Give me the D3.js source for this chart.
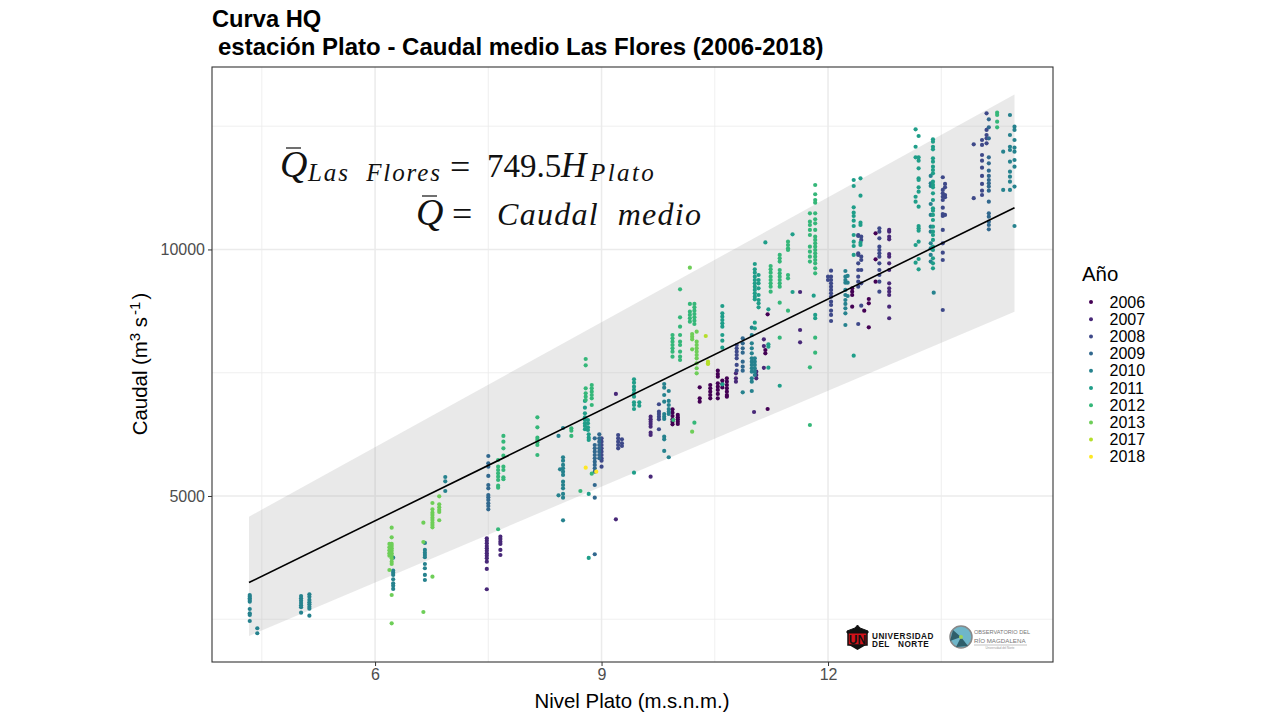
<!DOCTYPE html>
<html>
<head>
<meta charset="utf-8">
<script src="https://cdn.jsdelivr.net/npm/d3@7"></script>
<style>
  html, body { margin: 0; padding: 0; background: #fff; }
  text { font-family: "Liberation Sans", Arial, sans-serif; }
  .math { font-family: "Liberation Serif", serif; fill: #111; }
</style>
</head>
<body>
<svg id="chart" width="1280" height="720"></svg>
<script>
const obs2006 = [
  [9.94, [6758, 6689, 6622, 6555, 6507, 6454]],
  [10.01, [6643, 6596, 6555, 6507, 6460]],
  [10.3, [7204, 6981, 6912]],
  [10.44, [7251, 7184, 7115, 7048, 6981]],
  [10.54, [7541, 7474, 7419, 7285, 7217, 7150, 7069, 6981]],
  [10.6, [7340, 7270, 7200]],
  [10.66, [7387, 7319, 7251, 7184, 7115, 7048, 7014]],
  [11.17, [7961, 7894]],
  [11.2, [6764, 8684]],
  [12.32, [9212, 9143, 9076, 8839]],
  [12.54, [8995, 8908, 8421]],
  [12.48, [8758]],
  [12.63, [10327, 9800, 9346]]
];
const obs2007 = [
  [7.48, [4142, 4093, 4041, 3986, 3939, 3891, 3838, 3789, 3737, 3668, 3520, 3108]],
  [7.66, [4175, 4128, 4073, 4027, 3905, 3803]],
  [9.19, [7069, 4527]],
  [9.65, [6608, 6555, 6507, 6460, 6405, 6284, 6237, 5391]],
  [10.78, [7488, 7387, 7318]],
  [11.05, [7521, 7454, 7387]],
  [11.02, [6703]],
  [11.15, [8178, 8040, 7600]],
  [11.63, [9137, 8366, 8116]],
  [12.81, [10395, 10360, 10259, 10206, 9908, 9853, 9719, 9583, 9313, 9212, 9143, 9076, 8839, 8604]]
];
const obs2008 = [
  [9.0, [6170, 6101, 6034, 5967, 5898, 5831, 5765, 5716, 5594]],
  [9.22, [6237, 6170, 6101, 6034, 5967]],
  [9.27, [6150, 6069, 6014]],
  [9.76, [6860, 6710, 6663, 6608, 6555, 6353]],
  [10.79, [8062, 7995, 7926, 7859, 7792, 7657, 7541]],
  [12.0, [9447, 9380]],
  [12.04, [9569, 9447, 9380, 9313, 9244, 9178, 9111, 9042, 8941, 8873, 8758, 8671, 8549]],
  [12.4, [10293, 10273, 9921, 9888, 9719, 9583, 9447, 9346, 9244, 8488]],
  [12.44, [10259, 10192, 9853, 9786, 9583, 9313, 8859]],
  [12.68, [10430, 10360, 10226, 10056, 9989, 9921, 9853, 9719, 9583, 9482, 9346, 9143]],
  [13.52, [11464, 11206, 11139, 11069, 11003, 10847, 10718, 10678, 10395, 10125, 9934, 9786, 8772]],
  [13.55, [11328, 11260, 11104, 11058, 10699]],
  [13.93, [12132, 11039]],
  [14.04, [12220, 12119, 11915, 11800, 11658, 11490, 11328, 11192, 11104]],
  [14.1, [12761, 12423, 12321, 12254, 12152]]
];
const obs2009 = [
  [7.5, [5811, 5663, 5594, 5406, 5223, 5156, 5020, 4974, 4919, 4852, 4797, 4730]],
  [8.91, [6170, 6034, 5967, 5898, 5831, 5765, 5696, 5629, 5562, 5493, 5223, 4966, 3818]],
  [8.97, [6251, 6170, 6101, 6034, 5967, 5898, 5831, 5765]],
  [10.87, [8198, 8096, 7995, 7906, 7724, 7622, 7541]],
  [14.13, [12639, 12477, 12254, 11868, 11747, 11597, 11490, 11408, 11341, 11274, 11192, 10968, 10733, 10664, 10563, 10496, 10408]]
];
const obs2010 = [
  [4.34, [2992, 2958, 2925, 2891, 2856, 2708, 2621, 2587, 2465]],
  [4.44, [2317, 2216]],
  [5.02, [2972, 2925, 2877, 2830, 2783, 2743, 2633]],
  [5.13, [3007, 2958, 2891, 2844, 2804, 2755, 2714, 2572]],
  [6.24, [3749, 3485, 3444, 3398, 3311, 3230, 3181, 3114]],
  [6.66, [4047, 3905, 3850, 3803, 3757, 3621, 3534, 3398, 3296]],
  [6.93, [5385, 5298, 5101]],
  [8.49, [6379, 5785, 5716, 5629, 5562, 5493, 5426, 5290, 5223, 5156, 5041, 4966, 4507]],
  [8.45, [5541]],
  [8.43, [6217, 5014]],
  [9.83, [7271, 7196, 7048, 6912, 6663, 6608, 6562, 6203, 6150, 5913]],
  [9.89, [7129, 6927, 6845, 6764, 6710, 6663, 5785]],
  [10.87, [7103]],
  [10.99, [8413, 8265, 8096, 7995, 7893, 7792, 7724, 7657, 7590, 7521, 7387, 7318, 7129]],
  [11.03, [7792, 7724, 7657, 7590, 7521, 7454]],
  [12.23, [9563, 9447, 9380, 9325, 9178, 9076, 8975, 8894, 8806, 8705, 8468]],
  [12.26, [9462, 9325, 9056]],
  [13.36, [11490, 11341, 11287, 10922, 10699, 10461, 10360, 10125, 10023, 9888, 9753]],
  [13.4, [9123]],
  [14.32, [11983, 11206]],
  [14.41, [12727, 12321, 12083, 12017, 11780, 11577, 11476, 11375, 11206]],
  [14.47, [12489, 12423, 12220, 12064, 11983, 11814, 11678, 11274, 10475]]
];
const obs2011 = [
  [8.83, [5041, 6251, 6182, 6136, 3743]],
  [8.78, [6927, 6791, 6677, 6596, 6541, 6474, 6420, 6353]],
  [8.82, [6541, 6474, 6393, 6338]],
  [9.43, [7366, 7298, 7217, 7150, 7083, 7014, 6900, 6845, 6764, 5473]],
  [9.5, [6900, 6830]],
  [10.6, [8853, 8705, 8636, 8569, 8502, 8433, 8265, 8149, 8007, 7265]],
  [11.03, [9705, 9597, 9529, 9447, 9380, 9313, 9244, 9178, 9111, 9042, 8989, 8514, 8401]],
  [11.08, [9482, 9380, 9313, 9211, 9076, 8975, 8908, 8827]],
  [11.17, [10143]],
  [11.21, [8786, 8076, 8027, 7602]],
  [11.36, [7236]],
  [11.53, [10307, 9137]],
  [11.81, [9062]],
  [11.83, [8671, 8604]],
  [12.34, [11408, 11287, 10855, 10745, 10678, 10583, 10475, 10293, 10157, 10070, 9888, 7845]],
  [12.43, [11442, 11090, 10542, 10496, 10137, 10090]],
  [13.16, [12436, 12083, 11868, 11069, 10968, 10090, 9731]],
  [13.2, [12301, 11868, 11800, 11646, 11442, 11408, 11260, 11172, 10868, 10475, 10429, 10380, 10157, 9806, 9597]],
  [13.39, [12234, 12185, 12083, 12031, 11848, 11780, 11678, 11611, 11544, 11375, 11308, 11260, 11139, 11003, 10834, 10786, 10699, 10597, 10461, 10360, 10293, 10192, 10056, 9989, 9820, 9719, 9617]]
];
const obs2012 = [
  [7.63, [5730, 5594, 5527, 5459, 5391, 5324, 5209, 5168, 4325]],
  [7.7, [6217, 6101, 5967, 5817, 5594, 5527, 5379, 5339]],
  [8.15, [6596, 6393, 6182, 6136, 6089, 6034, 5831]],
  [8.6, [6373, 6324, 6217]],
  [8.72, [5101]],
  [8.87, [7251, 7184, 7115, 7048, 6981, 6845, 5452]],
  [8.79, [7778, 7650, 7184, 7083, 7014, 6947]],
  [9.95, [6541]],
  [9.94, [8265, 8198, 8129, 8062, 7995, 7926, 7825]],
  [10.04, [9192, 8624, 8433, 8265, 8129, 8062, 7926, 7825, 7758]],
  [10.17, [8894, 8738, 8671, 8604, 8535]],
  [10.23, [8894, 8826, 8758, 8691, 8624, 8555, 8488, 6487]],
  [11.24, [9664, 9597, 9529, 9447, 9380, 9313, 9244, 9143]],
  [11.36, [9888, 9820, 9753, 9583, 9516, 9447, 9380, 9313, 9244, 8920, 8210]],
  [11.47, [10157, 10090, 10023, 9989, 9482, 9415, 8758]],
  [11.76, [10733, 10563, 10496, 10395, 10293, 10056, 9955, 9853, 9753, 7609, 6440]],
  [11.83, [11307, 11119, 11003, 10949, 10733, 10612, 10530, 10395, 10259, 10192, 10125, 10056, 9989, 9921, 9853, 9786, 9719, 9617, 9516, 8210, 7906]],
  [14.24, [12774, 12727, 12592, 12477]]
];
const obs2013 = [
  [6.22, [4357, 4162, 4027, 3986, 3939, 3891, 3838, 3789, 3737, 3668, 3621, 2992, 2418]],
  [6.19, [4027, 3960, 3900, 3840, 3790, 3499]],
  [6.64, [4459, 4067, 2647]],
  [6.76, [4858, 4730, 4661, 4615, 4561, 4513, 4459, 4412, 4365, 3364]],
  [6.85, [4994, 4832, 4771, 4716, 4675, 4508]],
  [10.17, [9630]],
  [10.2, [8285, 8230, 8178, 7975, 6304]],
  [10.26, [8332, 8129, 8062, 7995, 7926, 7859, 7792, 7691, 7590, 7488]]
];
const obs2017 = [
  [10.38, [8245]],
  [10.41, [7724, 7690, 7677]]
];
const obs2018 = [
  [8.79, [5574]],
  [8.93, [5493]]
];

const years = ['2006', '2007', '2008', '2009', '2010', '2011', '2012', '2013', '2017', '2018'];
const observations = [obs2006, obs2007, obs2008, obs2009, obs2010, obs2011, obs2012, obs2013, obs2017, obs2018];

const fitLevels = [4.33, 14.47];
const fitFlows = [3245, 10845];
const bandUpper = [4580, 13142];
const bandLower = [2161, 8738];

const xMajor = [6, 9, 12];
const xMinor = [4.5, 7.5, 10.5, 13.5];
const yMajor = [5000, 10000];
const yMinor = [2500, 7500, 12500];

const MARGINS = { top: 67, right: 227, bottom: 58, left: 212 };
const WIDTH = 1280, HEIGHT = 720;

const svg = d3.select('#chart');
const chart = svg.append('g');

const xScale = d3.scaleLinear().domain([3.84, 14.98]).range([MARGINS.left, WIDTH - MARGINS.right]);
const yScale = d3.scaleLinear().domain([1633, 13700]).range([HEIGHT - MARGINS.bottom, MARGINS.top]);
const colour = d3.scaleOrdinal().domain(years).range(d3.quantize(d3.interpolateViridis, years.length));

// grid
const gridLine = (values, width) => {
  chart.append('g').selectAll('line').data(values).enter().append('line')
    .attr('x1', d => xScale(d)).attr('x2', d => xScale(d))
    .attr('y1', MARGINS.top).attr('y2', HEIGHT - MARGINS.bottom)
    .attr('stroke', '#ebebeb').attr('stroke-width', width);
};
const gridLineY = (values, width) => {
  chart.append('g').selectAll('line').data(values).enter().append('line')
    .attr('x1', MARGINS.left).attr('x2', WIDTH - MARGINS.right)
    .attr('y1', d => yScale(d)).attr('y2', d => yScale(d))
    .attr('stroke', '#ebebeb').attr('stroke-width', width);
};
gridLine(xMinor, 0.8);
gridLineY(yMinor, 0.8);
gridLine(xMajor, 1.5);
gridLineY(yMajor, 1.5);

// ribbon
const band = d3.area().x(d => xScale(d.h)).y0(d => yScale(d.lo)).y1(d => yScale(d.hi));
chart.append('path')
  .datum(fitLevels.map((h, i) => ({ h, lo: bandLower[i], hi: bandUpper[i] })))
  .attr('d', band)
  .attr('fill', '#999999').attr('fill-opacity', 0.22);

// points
const points = [];
observations.forEach((cols, i) => {
  cols.forEach(([h, flows]) => flows.forEach(q => points.push({ year: years[i], h, q })));
});
chart.append('g').selectAll('circle').data(points).enter().append('circle')
  .attr('cx', d => xScale(d.h))
  .attr('cy', d => yScale(d.q))
  .attr('r', 2.1)
  .attr('fill', d => colour(d.year));

// fit line
const fitLine = d3.line().x(d => xScale(d[0])).y(d => yScale(d[1]));
chart.append('path')
  .datum(fitLevels.map((h, i) => [h, fitFlows[i]]))
  .attr('d', fitLine)
  .attr('fill', 'none').attr('stroke', '#000').attr('stroke-width', 1.6);

// panel border
chart.append('rect')
  .attr('x', MARGINS.left).attr('y', MARGINS.top)
  .attr('width', WIDTH - MARGINS.left - MARGINS.right)
  .attr('height', HEIGHT - MARGINS.top - MARGINS.bottom)
  .attr('fill', 'none').attr('stroke', '#333').attr('stroke-width', 1.1);

// axes
const xAxis = chart.append('g')
  .attr('transform', `translate(0, ${HEIGHT - MARGINS.bottom})`)
  .call(d3.axisBottom(xScale).tickValues(xMajor).tickSize(4).tickPadding(3).tickSizeOuter(0));
const yAxis = chart.append('g')
  .attr('transform', `translate(${MARGINS.left}, 0)`)
  .call(d3.axisLeft(yScale).tickValues(yMajor).tickFormat(d3.format('d')).tickSize(4).tickPadding(3).tickSizeOuter(0));
[xAxis, yAxis].forEach(a => {
  a.select('.domain').remove();
  a.selectAll('line').attr('stroke', '#333');
  a.selectAll('text').attr('fill', '#4d4d4d').attr('font-size', 16).attr('font-family', '"Liberation Sans"');
});

// titles
svg.append('text').attr('x', 212).attr('y', 27).attr('font-size', 23.7).attr('font-weight', 700).text('Curva HQ');
svg.append('text').attr('x', 218).attr('y', 55).attr('font-size', 24).attr('font-weight', 700)
  .text('estación Plato - Caudal medio Las Flores (2006-2018)');
svg.append('text').attr('x', 632).attr('y', 708).attr('text-anchor', 'middle').attr('font-size', 20.4)
  .text('Nivel Plato (m.s.n.m.)');

const yLabel = svg.append('text').attr('transform', 'translate(147, 364) rotate(-90)')
  .attr('text-anchor', 'middle').attr('font-size', 20.4);
yLabel.append('tspan').text('Caudal (m');
yLabel.append('tspan').attr('font-size', 15).attr('dy', -7).text('3');
yLabel.append('tspan').attr('dy', 7).text(' s');
yLabel.append('tspan').attr('font-size', 15).attr('dy', -7).attr('dx', 2).text('-1');
yLabel.append('tspan').attr('dy', 7).attr('dx', 2).text(')');

// equations
const qBar = (x, y) => {
  svg.append('text').attr('class', 'math').attr('x', x).attr('y', y)
    .attr('font-size', 38).attr('font-style', 'italic').text('Q');
  svg.append('line').attr('x1', x + 6).attr('x2', x + 21).attr('y1', y - 29).attr('y2', y - 29)
    .attr('stroke', '#222').attr('stroke-width', 1.3);
};
const mathText = (x, y, str, size, italic, spacing) => {
  svg.append('text').attr('class', 'math').attr('x', x).attr('y', y)
    .attr('font-size', size).attr('font-style', italic ? 'italic' : 'normal')
    .attr('letter-spacing', spacing || 0).attr('xml:space', 'preserve').text(str);
};
qBar(280, 177);
mathText(308, 181, 'Las  Flores', 25, true, 1.9);
mathText(450, 179, '=', 36, false);
mathText(487, 177, '749.5', 33, false, 0);
mathText(561, 177, 'H', 35, true);
mathText(590, 181, 'Plato', 25, true, 2.4);
qBar(416, 225);
mathText(452, 226, '=', 36, false);
mathText(497, 225, 'Caudal  medio', 32, true, 1.3);

// legend
svg.append('text').attr('x', 1082).attr('y', 281).attr('font-size', 20.4).text('Año');
const legend = svg.append('g').selectAll('g').data(years).enter().append('g')
  .attr('transform', (d, i) => `translate(1091, ${302 + i * 17.2})`);
legend.append('circle').attr('r', 2).attr('fill', d => colour(d));
legend.append('text').attr('x', 18.5).attr('y', 5.6).attr('font-size', 16).text(d => d);

// logos
const logo = svg.append('g');
logo.append('rect').attr('x', 848).attr('y', 632).attr('width', 19).attr('height', 13).attr('fill', '#d2121a').attr('stroke', '#111').attr('stroke-width', 1.5);
logo.append('path').attr('d', 'M847 631 L855 628 L857.5 625 L860 628 L868 631 L868 633 L847 633 Z').attr('fill', '#111').attr('stroke', '#111');
logo.append('path').attr('d', 'M849 645 L857.5 650 L866 645 Z').attr('fill', '#111');
logo.append('text').attr('x', 857.5).attr('y', 644).attr('text-anchor', 'middle').attr('font-size', 12).attr('font-weight', 700).attr('fill', '#111').text('UN');
logo.append('text').attr('x', 872).attr('y', 638.5).attr('font-size', 8.2).attr('font-weight', 700).attr('letter-spacing', 0.5).attr('fill', '#111').text('UNIVERSIDAD');
logo.append('text').attr('x', 872).attr('y', 646.5).attr('font-size', 8.2).attr('font-weight', 700).attr('letter-spacing', 0.5).attr('fill', '#111').attr('xml:space', 'preserve').text('DEL   NORTE');
logo.append('circle').attr('cx', 961).attr('cy', 637).attr('r', 11).attr('fill', '#6fb6c9').attr('stroke', '#888').attr('stroke-width', 1.5);
logo.append('path').attr('d', 'M961 637 L953 630 L950 641 Z M961 637 L956 647 L968 646 Z').attr('fill', '#2f5f6b');
logo.append('circle').attr('cx', 961).attr('cy', 637).attr('r', 2).attr('fill', '#9fd356');
logo.append('text').attr('x', 974).attr('y', 634).attr('font-size', 5.6).attr('fill', '#777').text('OBSERVATORIO DEL');
logo.append('text').attr('x', 974).attr('y', 643).attr('font-size', 6.2).attr('fill', '#777').text('RÍO MAGDALENA');
logo.append('line').attr('x1', 974).attr('x2', 1027).attr('y1', 645).attr('y2', 645).attr('stroke', '#aaa').attr('stroke-width', 0.7);
logo.append('text').attr('x', 1000).attr('y', 649).attr('text-anchor', 'middle').attr('font-size', 3).attr('fill', '#999').text('Universidad del Norte');
</script>
</body>
</html>
